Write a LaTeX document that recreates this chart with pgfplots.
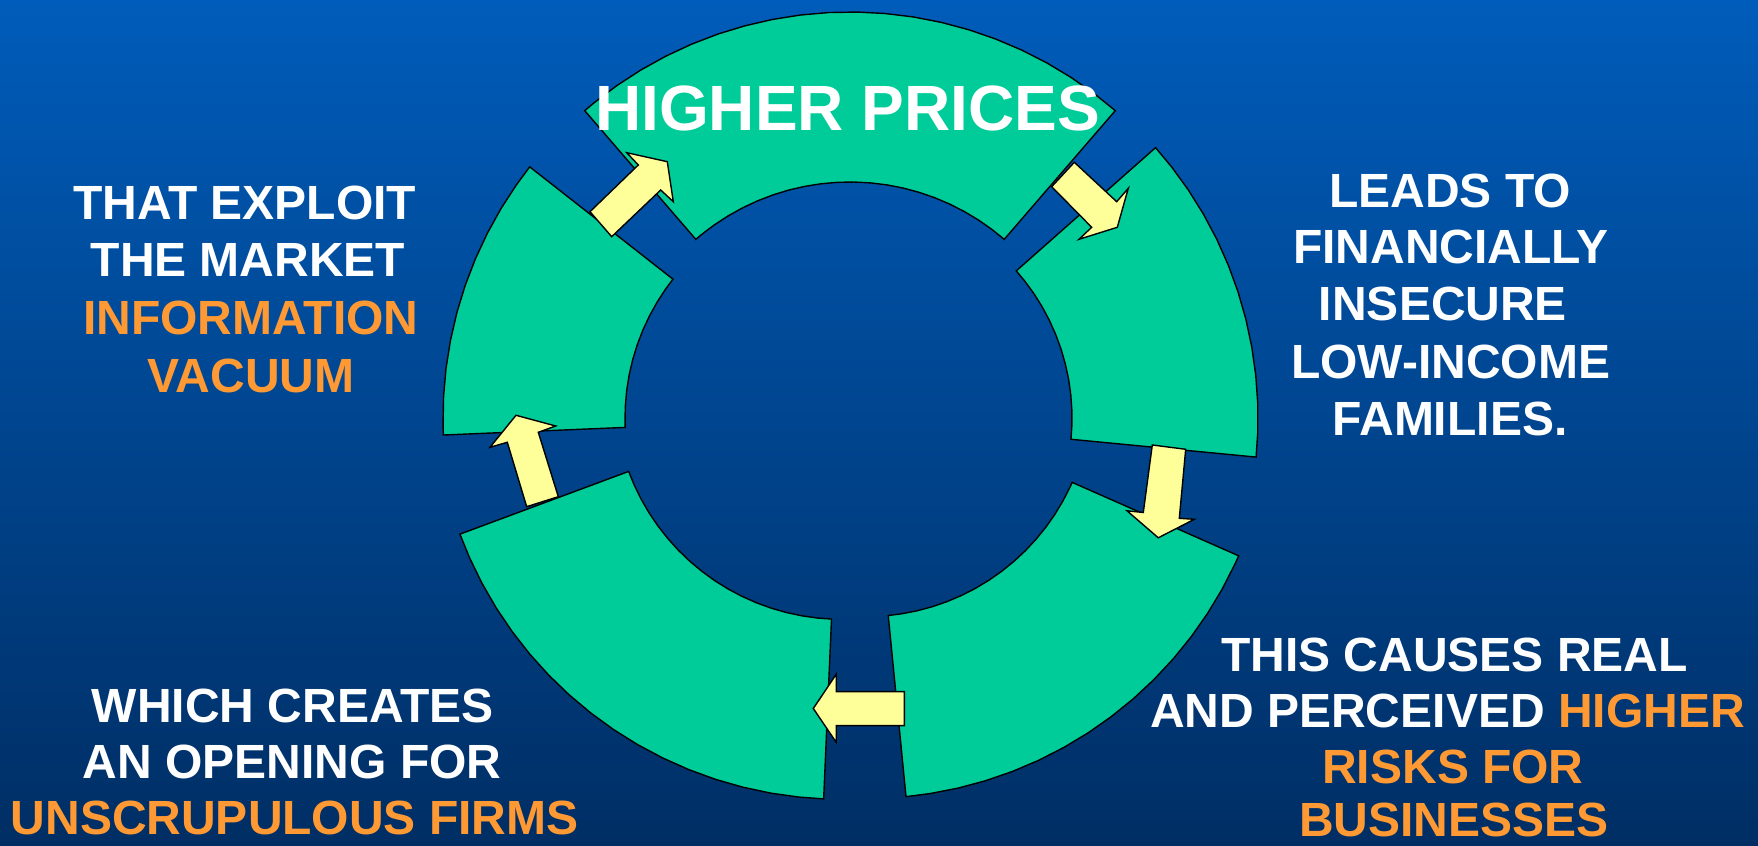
\documentclass[border=0pt]{standalone}
\usepackage{fontspec}
\setmainfont{Liberation Sans}
\usepackage{pgfplots}
\pgfplotsset{compat=1.18}
\definecolor{bgtop}{RGB}{0,92,186}
\definecolor{bgbot}{RGB}{0,46,100}
\definecolor{sect}{RGB}{0,204,153}
\definecolor{arr}{RGB}{255,255,153}
\definecolor{orng}{RGB}{255,153,51}
\tikzset{txt/.style={anchor=base,inner sep=0pt,text=white,font=\fontsize{24}{28}\selectfont\bfseries}}
\begin{document}
\begin{tikzpicture}
\begin{axis}[width=879pt,height=423pt,scale only axis,
  xmin=-850,xmax=908,ymin=-428,ymax=418,
  ticks=none, axis line style={draw=none},
  axis background/.style={top color=bgtop,bottom color=bgbot},
  sector/.style={draw=black,line width=0.7pt,fill=sect,line join=miter,data cs=polar,mark=none},
  arrow/.style={draw=black,line width=0.7pt,fill=arr,line join=miter,mark=none}]
% top sector
\addplot[sector] coordinates {(49.2,406) (53,406) (57,406) (61,406) (65,406) (69,406) (73,406) (77,406) (81,406) (85,406) (89,406) (93,406) (97,406) (101,406) (105,406) (109,406) (113,406) (117,406) (121,406) (125,406) (129,406) (130.8,406)
 (130.8,236) (129,236) (125,236) (121,236) (117,236) (113,236) (109,236) (105,236) (101,236) (97,236) (93,236) (89,236) (85,236) (81,236) (77,236) (73,236) (69,236) (65,236) (61,236) (57,236) (53,236) (49.2,236)} -- cycle;
% right sector
\addplot[sector] coordinates {(-5.5,408) (-2,408) (2,408) (6,408) (10,408) (14,408) (18,408) (22,408) (26,408) (30,408) (34,408) (38,408) (41.5,408)
 (41.5,222) (38,222) (34,222) (30,222) (26,222) (22,222) (18,222) (14,222) (10,222) (6,222) (2,222) (-2,222) (-5.5,222)} -- cycle;
% left sector
\addplot[sector] coordinates {(141.9,407) (145,407) (149,407) (153,407) (157,407) (161,407) (165,407) (169,407) (173,407) (177,407) (181,407) (182.4,407)
 (182.4,225) (181,225) (177,225) (173,225) (169,225) (165,225) (161,225) (157,225) (153,225) (149,225) (145,225) (141.9,225)} -- cycle;
% bottom-right sector
\addplot[sector,xshift=8.15pt,yshift=13.2pt] coordinates {(275.6,407) (279,407) (283,407) (287,407) (291,407) (295,407) (299,407) (303,407) (307,407) (311,407) (315,407) (319,407) (323,407) (327,407) (331,407) (335,407) (336.2,407)
 (336.2,225) (335,225) (331,225) (327,225) (323,225) (319,225) (315,225) (311,225) (307,225) (303,225) (299,225) (295,225) (291,225) (287,225) (283,225) (279,225) (275.6,225)} -- cycle;
% bottom-left sector
\addplot[sector,xshift=-4.3pt,yshift=12.85pt] coordinates {(200.4,407) (204,407) (208,407) (212,407) (216,407) (220,407) (224,407) (228,407) (232,407) (236,407) (240,407) (244,407) (248,407) (252,407) (256,407) (260,407) (264,407) (267.5,407)
 (267.5,227) (264,227) (260,227) (256,227) (252,227) (248,227) (244,227) (240,227) (236,227) (232,227) (228,227) (224,227) (220,227) (216,227) (212,227) (208,227) (204,227) (200.4,227)} -- cycle;
% arrows
\addplot[arrow] coordinates {(-260,206.3) (-211.7,253) (-223.3,265.3) (-182.7,256.3) (-176.7,216.3) (-189.3,228) (-238.3,181.3)} -- cycle;
\addplot[arrow] coordinates {(224.3,255.7) (266.7,216.3) (278.3,229.7) (267.3,190.7) (229,178.7) (241.7,190.7) (201.7,231.3)} -- cycle;
\addplot[arrow] coordinates {(302.3,-27) (293.3,-94.5) (277,-92.8) (308.3,-119.8) (344.3,-101.3) (329.3,-100.3) (335.7,-31.3)} -- cycle;
\addplot[arrow] coordinates {(54.3,-273.7) (-13.8,-273.7) (-13.8,-256.3) (-36.7,-290.5) (-13.8,-324.3) (-13.8,-307.7) (54.3,-307.7)} -- cycle;
\addplot[arrow] coordinates {(-323.3,-88.7) (-342.7,-24.3) (-360,-29.3) (-334,2.7) (-294.3,-8) (-311.7,-14.3) (-291.7,-78.7)} -- cycle;
% texts
\node[txt,font=\fontsize{32}{38}\selectfont\bfseries] at (axis cs:-2.4,287.3) {HIGHER PRICES};
\node[txt] at (axis cs:-605.3,198.7) {THAT EXPLOIT};
\node[txt] at (axis cs:-602,141) {THE MARKET};
\node[txt,text=orng] at (axis cs:-599.2,83) {INFORMATION};
\node[txt,text=orng] at (axis cs:-599,25.3) {VACUUM};
\node[txt] at (axis cs:600,210.7) {LEADS TO};
\node[txt] at (axis cs:600.8,154.7) {FINANCIALLY};
\node[txt] at (axis cs:593,97.3) {INSECURE};
\node[txt] at (axis cs:600.8,39.7) {LOW-INCOME};
\node[txt] at (axis cs:600,-18) {FAMILIES.};
\node[txt] at (axis cs:-557.2,-305) {WHICH CREATES};
\node[txt] at (axis cs:-557.8,-361) {AN OPENING FOR};
\node[txt,text=orng] at (axis cs:-555.3,-417) {UNSCRUPULOUS FIRMS};
\node[txt] at (axis cs:604.4,-254) {THIS CAUSES REAL};
\node[txt] at (axis cs:597.4,-309.5) {AND PERCEIVED \textcolor{orng}{HIGHER}};
\node[txt,text=orng] at (axis cs:603,-365.5) {RISKS FOR};
\node[txt,text=orng] at (axis cs:604,-419) {BUSINESSES};
\end{axis}
\end{tikzpicture}
\end{document}
